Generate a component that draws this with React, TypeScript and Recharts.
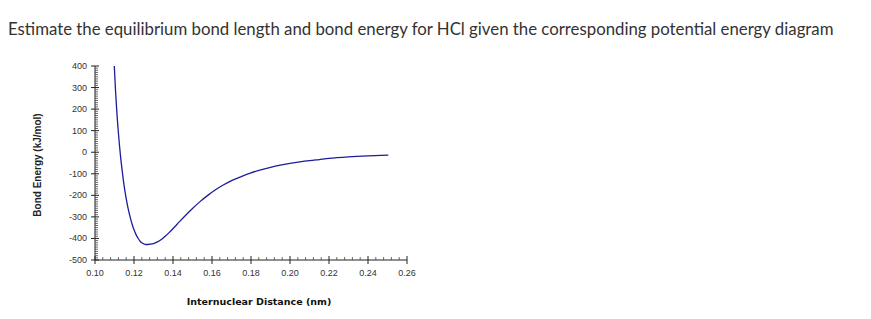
import React from "react";
import { LineChart, Line, XAxis, YAxis } from "recharts";

// readings (nm, kJ/mol)
const distance = [
    0.1099, 0.1105, 0.1111, 0.112, 0.113, 0.114, 0.115, 0.116, 0.117, 0.118,
    0.119, 0.12, 0.121, 0.122, 0.123, 0.124, 0.125, 0.126, 0.127, 0.128,
    0.13, 0.132, 0.134, 0.136, 0.138, 0.142, 0.146, 0.15, 0.154, 0.158,
    0.162, 0.166, 0.17, 0.175, 0.18, 0.185, 0.19, 0.195, 0.2, 0.205,
    0.21, 0.215, 0.22, 0.23, 0.24, 0.2504,
];
const energy = [
    400, 290, 200, 90, -10, -90, -160, -215, -262, -300,
    -333, -360, -381, -398, -411, -420, -425, -428, -428, -427,
    -424, -416, -405, -390, -373, -335, -297, -261, -228, -199,
    -173, -151, -132, -113, -96, -82, -70, -60, -52, -45,
    -39, -34, -29, -22, -17, -13,
];

const xMajorTicks = [0.1, 0.12, 0.14, 0.16, 0.18, 0.2, 0.22, 0.24, 0.26];
const yMajorTicks = [-500, -400, -300, -200, -100, 0, 100, 200, 300, 400];

const data = distance.map((d, i) => ({ d, e: energy[i] }));

// minor ticks: 0.004 on x, 10 on y
const xTicks: number[] = [];
for (let i = 0; i <= 40; i++) xTicks.push(Math.round((0.1 + i * 0.004) * 1000) / 1000);
const yTicks: number[] = [];
for (let v = -500; v <= 400; v += 10) yTicks.push(v);

const isMajorX = (v: number) => xMajorTicks.some((m) => Math.abs(m - v) < 1e-6);
const isMajorY = (v: number) => yMajorTicks.includes(v);

const tickFont = "'Liberation Sans', Arial, sans-serif";

function YTick(props: any) {
    const { x, y, payload } = props;
    const ax = x + 7;
    const v = payload.value;
    if (isMajorY(v)) {
        return (
            <g>
                <line x1={ax - 4} x2={ax + 4} y1={y} y2={y} stroke="#222" strokeWidth={1} />
                <text x={ax - 8} y={y} dy={3} textAnchor="end" fontSize={9} fill="#333" fontFamily={tickFont}>
                    {v}
                </text>
            </g>
        );
    }
    return <line x1={ax} x2={ax + 3} y1={y} y2={y} stroke="#444" strokeWidth={0.8} />;
}

function XTick(props: any) {
    const { x, y, payload } = props;
    const ay = y - 7;
    const v = payload.value;
    if (isMajorX(v)) {
        return (
            <g>
                <line x1={x} x2={x} y1={ay - 4} y2={ay + 4} stroke="#222" strokeWidth={1} />
                <text x={x} y={ay + 16} textAnchor="middle" fontSize={9} fill="#333" fontFamily={tickFont}>
                    {v.toFixed(2)}
                </text>
            </g>
        );
    }
    return <line x1={x} x2={x} y1={ay - 3} y2={ay} stroke="#444" strokeWidth={0.8} />;
}

export default function App() {
    return (
        <div style={{ position: "relative", width: 863, height: 311 }}>
            <div style={{
                position: "absolute",
                left: 0,
                top: 10,
                fontFamily: "Lato, sans-serif",
                fontSize: "16.8px",
                color: "#333",
                whiteSpace: "nowrap",
            }}>
                Estimate the equilibrium bond length and bond energy for HCl given the corresponding potential energy diagram
            </div>
            <div style={{ position: "absolute", left: 0, top: 0 }}>
                <LineChart
                    width={863}
                    height={311}
                    data={data}
                    margin={{ top: 58, right: 464, bottom: 29, left: 47 }}
                >
                    <XAxis
                        dataKey="d"
                        type="number"
                        domain={[0.1, 0.26]}
                        ticks={xTicks}
                        interval={0}
                        tickSize={5}
                        tickMargin={2}
                        tickLine={false}
                        axisLine={{ stroke: "#222" }}
                        tick={<XTick />}
                        height={30}
                    />
                    <YAxis
                        type="number"
                        domain={[-500, 400]}
                        ticks={yTicks}
                        interval={0}
                        tickSize={5}
                        tickMargin={2}
                        tickLine={false}
                        axisLine={{ stroke: "#222" }}
                        tick={<YTick />}
                        width={40}
                    />
                    <Line
                        type="monotone"
                        dataKey="e"
                        stroke="#1c1c9c"
                        strokeWidth={1.3}
                        dot={false}
                        isAnimationActive={false}
                    />
                </LineChart>
            </div>
            <div style={{
                position: "absolute",
                left: 29,
                top: 157,
                transform: "translate(-50%, -50%) rotate(-90deg)",
                fontFamily: tickFont,
                fontWeight: "bold",
                fontSize: "10px",
                color: "#222",
                whiteSpace: "nowrap",
            }}>
                Bond Energy (kJ/mol)
            </div>
            <div style={{
                position: "absolute",
                left: 251,
                top: 293,
                transform: "translate(-50%, -50%)",
                fontFamily: "'DejaVu Sans', sans-serif",
                fontWeight: "bold",
                fontSize: "9.5px",
                color: "#111",
                whiteSpace: "nowrap",
            }}>
                Internuclear Distance (nm)
            </div>
        </div>
    );
}
